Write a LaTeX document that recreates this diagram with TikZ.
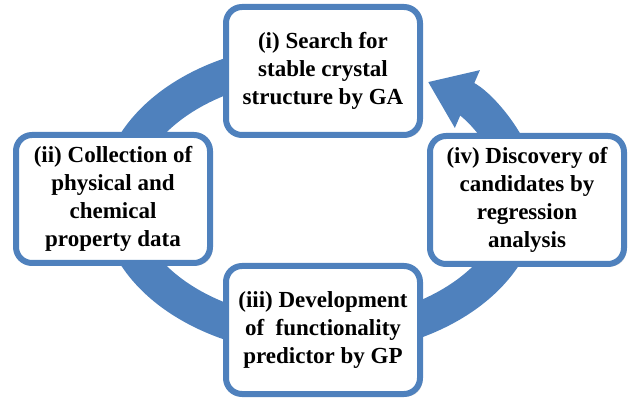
\documentclass[tikz,border=0pt]{standalone}
\usepackage{fontspec}
\setmainfont{Liberation Serif}
\usepackage{tikz}
\usetikzlibrary{arrows.meta}
\usetikzlibrary{shadows}
\definecolor{ringblue}{RGB}{79,129,189}
\tikzset{stage box/.style={draw=ringblue, line width=6pt, fill=white, rounded corners=16pt, minimum width=194pt, minimum height=128pt, align=center, font=\bfseries\fontsize{23}{28}\selectfont, drop shadow={shadow xshift=2.5pt, shadow yshift=-2.5pt, opacity=0.3}}}
\tikzset{cycle arrow/.style={draw=ringblue, line width=35pt, -{Triangle[width=60pt, length=43pt]}}}

\begin{document}
\begin{tikzpicture}[x=1pt, y=1pt]
  \useasboundingbox (0, 0) rectangle (637, -403);
  \coordinate (ctr) at (320, -199);

  % the cycle, starting under box (i)
  \draw[cycle arrow] (ctr) ++(100:202 and 138.5) arc[start angle=100, end angle=417.7, x radius=202, y radius=138.5];

  \node[stage box] at (323, -71) (search) {(i) Search for\\stable crystal\\structure by GA};
  \node[stage box] at (113, -199) (collect) {(ii) Collection of\\physical and\\chemical\\property data};
  \node[stage box] at (323, -330) (develop) {(iii) Development\\of\ \ functionality\\predictor by GP};
  \node[stage box] at (527, -200) (discover) {(iv) Discovery of\\candidates by\\regression\\analysis};
\end{tikzpicture}
\end{document}
